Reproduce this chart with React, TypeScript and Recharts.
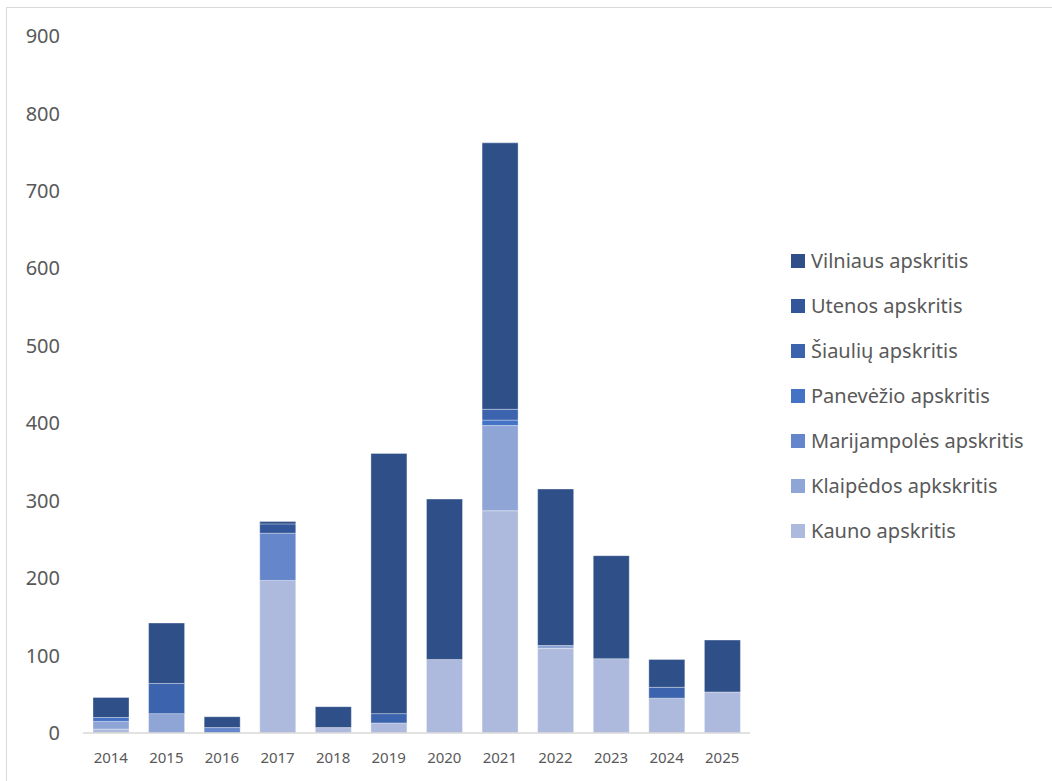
import { Bar, BarChart, XAxis, YAxis } from 'recharts';

const YEARS = ['2014', '2015', '2016', '2017', '2018', '2019', '2020', '2021', '2022', '2023', '2024', '2025'];

const KAUNO = [5, 0, 0, 197, 7, 13, 95, 287, 109, 96, 45, 53];
const KLAIPEDOS = [10, 25, 0, 0, 0, 0, 0, 110, 4, 0, 0, 0];
const MARIJAMPOLES = [0, 0, 7, 61, 0, 0, 0, 0, 0, 0, 0, 0];
const PANEVEZIO = [5, 0, 0, 0, 0, 0, 0, 7, 0, 0, 0, 0];
const SIAULIU = [0, 39, 0, 0, 0, 12, 0, 14, 0, 0, 14, 0];
const UTENOS = [0, 0, 0, 12, 0, 0, 0, 0, 0, 0, 0, 0];
const VILNIAUS = [26, 78, 14, 3, 27, 336, 207, 344, 202, 133, 36, 67];

const Y_TICKS = [0, 100, 200, 300, 400, 500, 600, 700, 800, 900];

// bottom of the stack first
const SERIES = [
  { key: 'kauno', name: 'Kauno apskritis', values: KAUNO, color: '#AEBADD' },
  { key: 'klaipedos', name: 'Klaipėdos apkskritis', values: KLAIPEDOS, color: '#8FA5D5' },
  { key: 'marijampoles', name: 'Marijampolės apskritis', values: MARIJAMPOLES, color: '#6586CA' },
  { key: 'panevezio', name: 'Panevėžio apskritis', values: PANEVEZIO, color: '#4472C4' },
  { key: 'siauliu', name: 'Šiaulių apskritis', values: SIAULIU, color: '#3C63AD' },
  { key: 'utenos', name: 'Utenos apskritis', values: UTENOS, color: '#325699' },
  { key: 'vilniaus', name: 'Vilniaus apskritis', values: VILNIAUS, color: '#2E4F88' },
];

const data = YEARS.map((year, i) => {
  const row: Record<string, string | number> = { year };
  SERIES.forEach((s) => {
    row[s.key] = s.values[i];
  });
  return row;
});

const FONT = '"Noto Sans", "Open Sans", sans-serif';
const TEXT = '#595959';

// legend drawn as plain html so it doesn't eat into the plot width
function LegendList(): JSX.Element {
  return (
    <div style={{ position: 'absolute', left: 791, top: 238, fontFamily: FONT }}>
      {[...SERIES].reverse().map((s) => (
        <div key={s.key} style={{ display: 'flex', alignItems: 'center', height: 45 }}>
          <span style={{ width: 14, height: 14, background: s.color, marginRight: 6, flex: 'none' }} />
          <span style={{ fontSize: 20, color: TEXT, whiteSpace: 'nowrap' }}>{s.name}</span>
        </div>
      ))}
    </div>
  );
}

export default function App(): JSX.Element {
  return (
    <div style={{ position: 'relative', width: 1052, height: 781, overflow: 'hidden' }}>
      <style>{'body{margin:0;overflow:hidden}'}</style>
      <div
        style={{
          position: 'absolute',
          left: 6,
          top: 7,
          width: 1100,
          height: 800,
          borderLeft: '1px solid #D9D9D9',
          borderTop: '1px solid #D9D9D9',
        }}
      />
      <div style={{ position: 'absolute', left: 0, top: 0 }}>
        <BarChart
          width={1052}
          height={781}
          data={data}
          margin={{ top: 36, right: 302, bottom: 18, left: 0 }}
          barSize={36}
        >
          <XAxis
            dataKey="year"
            height={30}
            interval={0}
            tickLine={false}
            tickMargin={13}
            stroke="#D9D9D9"
            strokeWidth={1.5}
            tick={{ fill: TEXT, fontSize: 15, fontFamily: FONT }}
          />
          <YAxis
            width={83}
            domain={[0, 900]}
            ticks={Y_TICKS}
            interval={0}
            axisLine={false}
            tickLine={false}
            tickMargin={17}
            tick={{ fill: TEXT, fontSize: 20, fontFamily: FONT }}
          />
          {SERIES.map((s) => (
            <Bar
              key={s.key}
              dataKey={s.key}
              name={s.name}
              stackId="a"
              fill={s.color}
              stroke="#FFFFFF"
              strokeOpacity={0.45}
              strokeWidth={0.75}
              isAnimationActive={false}
            />
          ))}
        </BarChart>
      </div>
      <LegendList />
    </div>
  );
}
